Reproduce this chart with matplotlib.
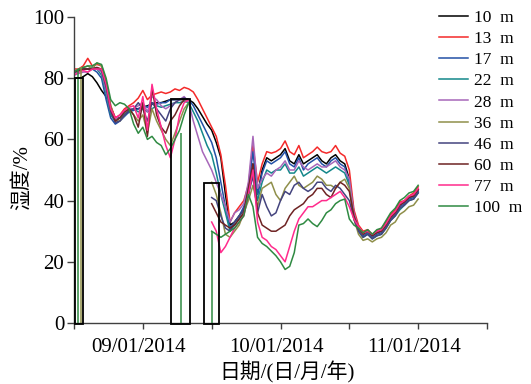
import numpy as np
import matplotlib
matplotlib.use("Agg")
import matplotlib.pyplot as plt
import matplotlib.transforms as mtransforms
from matplotlib.patches import Rectangle

plt.rcParams['font.family'] = ['Liberation Serif', 'Noto Sans CJK SC', 'DejaVu Sans']

nan = np.nan

# Days since 2014-08-17 (one reading per day)
days = np.arange(76)

depth_labels = ['10  m', '13  m', '17  m', '22  m', '28  m',
                '36  m', '46  m', '60  m', '77  m', '100  m']

h10 = [80, 80, 80.5, 81.5, 80.5, 78.5, 76, 74, 70.5, 67, 67, 68, 69,
       70, 70, 70.5, 71, 71.5, 72, 72, 72.5, 73, 73, 73, 73, 73,
       72, 70, 67.5, 65, 63, 59, 54, 42, 32, 33, 35, 37, 42,
       52, 42, 50, 54, 53, 54, 55, 57, 53, 52, 55, 52, 53,
       54, 55, 53, 52, 54, 55, 53, 52, 47, 36, 31, 29, 30,
       28.5, 29.5, 30, 32, 34.5, 36, 38.5, 39.5, 41, 41.5, 43.5]
h13 = [83, 83, 84, 86.5, 84, 84.5, 84, 79, 71, 67, 68, 70, 71,
       72, 73.5, 76, 73, 74.5, 75, 75.5, 75, 75.5, 76.5, 76, 77, 76.5,
       75.5, 73, 70, 67, 64, 61, 55, 45, 33, 36, 38, 40, 45,
       58, 46, 52, 56, 55.5, 56, 57, 59.5, 56, 55, 58, 54, 55,
       56, 57.5, 56, 55.5, 56, 58, 55.5, 54.5, 50, 37, 32, 30, 30.5,
       29, 30, 31, 33, 35.5, 37, 39.5, 40, 41.5, 42.5, 44.5]
h17 = [82, 82, 83, 83, 83, 82, 80, 73, 67, 65, 66, 67.5, 69,
       69.5, 70, 71, 70.5, 72, 71.5, 72, 72, 73, 73, 73, 73.5, 73,
       71, 68, 65, 62, 59, 54, 46, 38, 31, 33, 35, 38, 44,
       56, 42, 49, 53, 52, 53, 54, 56, 52, 51, 54, 50, 52,
       53, 54, 52, 51, 53, 54, 52, 51, 46, 35, 30.5, 28.5, 29.5,
       28, 29, 29.5, 31.5, 34, 35.5, 38, 39, 40.5, 41, 43]
h22 = [82, 82.5, 83, 83, 83.5, 83, 81, 75, 68, 66, 67, 68.5, 69.5,
       70, 69, 70, 69, 70, 71, 70.5, 71, 71.5, 72, 72, 72.5, 72,
       69, 66, 62, 58, 55, 49, 42, 36, 30, 32, 34, 36, 42,
       50, 40, 46, 50, 49, 50, 50, 52, 49, 49, 51, 48, 49,
       50, 51, 50, 49, 50, 51, 50, 49, 45, 34, 30, 28, 29,
       27.5, 28.5, 29, 31, 33.5, 35, 37, 38.5, 40, 40.5, 42.5]
h28 = [81, 81.5, 82, 82, 83, 83, 82, 76, 69, 66.5, 68, 69, 70,
       70, 71, 72, 69, 74, 73, 71, 70, 71, 72, 73, 74, 72,
       66, 61, 56, 53, 50, 46, 42, 38, 33, 36, 37, 39, 46,
       61, 44, 47, 49, 48, 50, 51, 53, 50, 50, 53, 51, 50,
       51, 52, 51, 51, 52, 53, 51, 50, 47, 36, 31, 29, 30,
       28.5, 29.5, 30, 32, 34.5, 36, 38.5, 39.5, 41, 41.5, 43.5]
h36 = [82, 83, 83.5, 84, 83, 85, 84, 79, 71, 66, 66, 68, 70,
       68, 66, 68, 62, 70, 66, 63, 60, 58, 62, 66, 70, 72,
       nan, nan, nan, nan,
       46, 42, 36, 29, 28, 30, 32, 36, 40,
       45, 38, 44, 45, 46, 42, 40, 44, 46, 48, 45, 44, 45,
       46, 48, 47, 45, 45, 44, 46, 47, 44, 34, 29, 27, 27.5,
       26.5, 27.5, 28, 29.5, 32, 33, 35.5, 36.5, 38, 38.5, 40.5]
h46 = [82, 82.5, 83, 83, 83, 83.5, 82.5, 77, 69, 65.5, 66, 68, 69.5,
       70, 72, 70, 66, 72, 70, 68, 66, 70, 72, 73, 73.5, 73,
       nan, nan, nan, nan,
       41, 40, 35, 31, 30, 33, 35, 37, 42,
       48, 36, 42, 38, 35, 36, 40, 43, 42, 45, 46, 44, 43,
       44, 46, 46, 44, 43, 45, 44, 42, 40, 34, 30, 28, 29,
       27.5, 28.5, 29, 31, 33.5, 35, 37.5, 38.5, 40, 40.5, 42.5]
h60 = [82, 82.5, 83, 83, 83, 83.5, 83, 78, 70, 66, 67, 69, 70,
       68, 64, 72, 61, 77, 68, 64, 62, 66, 68, 71, 73, 73,
       nan, nan, nan, nan,
       39, 36, 33, 32, 31, 32, 34, 36, 44,
       52, 36, 32, 31, 30, 30, 31, 32, 35, 37, 38, 39, 41,
       42, 44, 44, 42, 41, 44, 46, 45, 43, 35, 31, 29, 30,
       28.5, 29.5, 30, 32, 34.5, 36, 38.5, 39.5, 41, 41.5, 43.5]
h77 = [81, 82, 82.5, 82, 83, 83, 83, 78, 70, 67, 68, 69.5, 70.5,
       71, 67, 74, 63, 78, 70, 64, 58, 54, 60, 68, 72, 73,
       nan, nan, nan, nan,
       33, 30, 23, 25, 28, 31, 33, 35, 42,
       50, 33, 28, 27, 25, 24, 22, 20, 25, 30, 34, 36, 38,
       38, 39, 40, 40, 41, 42, 43, 41, 38, 34, 31.5, 29.5, 30,
       29, 30, 30.5, 32.5, 35, 36.5, 39, 40, 41.5, 42, 44]
h100 = [82, 83, 83.5, 84, 84, 85, 84.5, 80, 73, 71, 72, 71.5, 70,
        65, 62, 64, 60, 61, 59, 58, 55, 57, 60, 63, 68, 72,
        nan, nan, nan, nan,
        30, 29, 28, 29, 30, 31, 33, 35, 42,
        38, 28, 26, 25, 23.5, 22, 20, 17.5, 18.5, 23, 32, 32.5, 34,
        32.5, 31.5, 33.5, 36, 37, 39, 40, 40.5, 34, 32, 31, 29.5, 30.5,
        29, 30.5, 31, 33.5, 36, 37.5, 40, 41, 42.5, 43, 45]

series = [h10, h13, h17, h22, h28, h36, h46, h60, h77, h100]
colors = ['#000000', '#f42a2a', '#2351a6', '#14878a', '#a767b9',
          '#8f8f4a', '#44447e', '#6e2323', '#ff2b8c', '#2f8a42']

# Sensor dropouts recorded as zero: (series index, day, last reading)
dropouts = [(9, 0.87, 83), (5, 1.6, 83.5), (9, 23.4, 62), (9, 30.1, 30)]

# Boxes marking the intervals with missing readings: (start day, end day, top)
gap_boxes = [(0.15, 1.95, 80.2), (21.2, 25.35, 73.1), (28.3, 31.6, 45.6)]

tick_days = [0, 15, 30, 45, 60, 75, 90]
tick_labels = ['', '09/01/2014', '', '10/01/2014', '', '11/01/2014', '']

fig = plt.figure(figsize=(5.31, 3.84), dpi=100)
ax = fig.add_axes([74 / 531, 61 / 384, 413 / 531, 306 / 384])

for vals, col, lab in zip(series, colors, depth_labels):
    ax.plot(days, vals, color=col, lw=1.1, label=lab, solid_joinstyle='round')

for idx, d, top in dropouts:
    ax.vlines(d, 0, top, color=colors[idx], lw=1.1)

for d0, d1, top in gap_boxes:
    ax.add_patch(Rectangle((d0, -0.4), d1 - d0, top + 0.4, fill=False,
                           ec='black', lw=1.3, clip_on=False, zorder=5))

ax.set_xlim(0, 90)
ax.set_ylim(0, 100)
ax.spines['top'].set_visible(False)
ax.spines['right'].set_visible(False)
for s in ('left', 'bottom'):
    ax.spines[s].set_color('#404040')
    ax.spines[s].set_linewidth(1.0)

ax.set_xticks(tick_days)
ax.set_xticklabels(tick_labels)
ax.set_yticks(np.arange(0, 101, 20))
ax.tick_params(axis='x', direction='out', length=4, width=1, color='#404040',
               labelsize=15, pad=7)
ax.tick_params(axis='y', direction='out', length=5, width=1, color='#404040',
               labelsize=15, pad=2)

shift = mtransforms.ScaledTranslation(-4 / 100, 0, fig.dpi_scale_trans)
for lbl in ax.get_xticklabels():
    lbl.set_transform(lbl.get_transform() + shift)

ax.set_ylabel('湿度/%', fontsize=15)
ax.yaxis.set_label_coords(-0.102, 0.475)
ax.set_xlabel('日期/(日/月/年)', fontsize=15)
ax.xaxis.set_label_coords(0.516, -0.125)

ax.legend(loc='upper left', bbox_to_anchor=(439 / 531, 1 - 10 / 384),
          bbox_transform=fig.transFigure, frameon=False, fontsize=12.5,
          handlelength=1.65, handletextpad=0.35, labelspacing=0.285,
          borderpad=0, borderaxespad=0)

fig.savefig('out.png', dpi=100)
